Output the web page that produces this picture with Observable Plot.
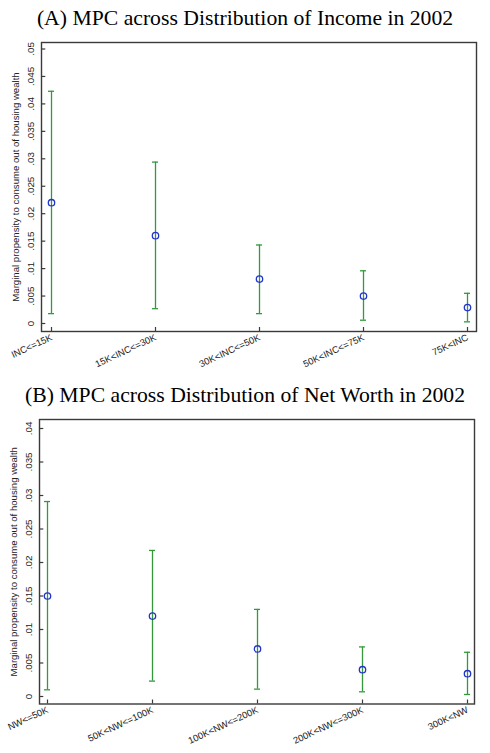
<!DOCTYPE html>
<html><head><meta charset="utf-8">
<script src="https://cdn.jsdelivr.net/npm/d3@7"></script>
<script src="https://cdn.jsdelivr.net/npm/@observablehq/plot@0.6"></script>
<style>
body{margin:0;background:#fff;}
#wrap{position:relative;width:490px;height:753px;overflow:hidden;background:#fff;}
.title{position:absolute;left:0;width:490px;text-align:center;font-family:"Liberation Serif","Times New Roman",serif;font-size:21.7px;line-height:21.7px;color:#000;white-space:nowrap;}
.panel{position:absolute;left:0;}
</style></head><body>
<div id="wrap">
<div class="title" style="top:8px">(A) MPC across Distribution of Income in 2002</div>
<div class="panel" id="pa" style="top:36px"></div>
<div class="title" style="top:385px">(B) MPC across Distribution of Net Worth in 2002</div>
<div class="panel" id="pb" style="top:413px"></div>
</div>
<script>
// Panel A: income groups
const incomeCats = ["INC<=15K", "15K<INC<=30K", "30K<INC<=50K", "50K<INC<=75K", "75K<INC"];
const incomeMPC  = [0.0220, 0.0160, 0.0081, 0.0050, 0.0029];
const incomeLow  = [0.0018, 0.0027, 0.0018, 0.0006, 0.0003];
const incomeHigh = [0.0423, 0.0294, 0.0143, 0.0096, 0.0055];
const incomeYTicks  = [0, 0.005, 0.01, 0.015, 0.02, 0.025, 0.03, 0.035, 0.04, 0.045, 0.05];
const incomeYLabels = ["0", ".005", ".01", ".015", ".02", ".025", ".03", ".035", ".04", ".045", ".05"];

// Panel B: net worth groups
const worthCats = ["NW<=50K", "50K<NW<=100K", "100K<NW<=200K", "200K<NW<=300K", "300K<NW"];
const worthMPC  = [0.0150, 0.0120, 0.0071, 0.0040, 0.0034];
const worthLow  = [0.0010, 0.0023, 0.0011, 0.0007, 0.0003];
const worthHigh = [0.0291, 0.0218, 0.0130, 0.0074, 0.0066];
const worthYTicks  = [0, 0.005, 0.01, 0.015, 0.02, 0.025, 0.03, 0.035, 0.04];
const worthYLabels = ["0", ".005", ".01", ".015", ".02", ".025", ".03", ".035", ".04"];

const yTitle = "Marginal propensity to consume out of housing wealth";

const GREEN = "#33993a";
const BLUE = "#2233cc";
const AXIS = "#3a3a3a";
const SANS = "'Liberation Sans', Arial, Helvetica, sans-serif";

function panel({cats, mpc, lo, hi, yTicks, yLabels, yDomain, ml, mr, mb, padding}) {
  const rows = cats.map((c, i) => ({cat: c, mpc: mpc[i], lo: lo[i], hi: hi[i]}));
  const W = 490, H = 340, mt = 6;
  const fw = W - ml - mr, fh = H - mt - mb;
  const tickLab = yTicks.map((v, i) => ({v, s: yLabels[i]}));
  return Plot.plot({
    width: W, height: H,
    marginLeft: ml, marginRight: mr, marginTop: mt, marginBottom: mb,
    style: {background: "#fff", overflow: "visible", fontFamily: SANS},
    x: {type: "point", domain: cats, padding, axis: null},
    y: {domain: yDomain, axis: null},
    marks: [
      Plot.ruleX(rows, {x: "cat", y1: "lo", y2: "hi", stroke: GREEN, strokeWidth: 1.3}),
      Plot.ruleY(rows, {x1: "cat", x2: "cat", y: "hi", insetLeft: -3, insetRight: -3, stroke: GREEN, strokeWidth: 1.3}),
      Plot.ruleY(rows, {x1: "cat", x2: "cat", y: "lo", insetLeft: -3, insetRight: -3, stroke: GREEN, strokeWidth: 1.3}),
      Plot.dot(rows, {x: "cat", y: "mpc", r: 3.2, stroke: BLUE, fill: "none", strokeWidth: 1.3}),
      Plot.tickY(yTicks, {y: d => d, insetRight: fw - 4.3, stroke: AXIS, strokeWidth: 1.2}),
      Plot.tickX(cats, {x: d => d, insetTop: fh - 4, stroke: AXIS, strokeWidth: 1.2}),
      Plot.frame({stroke: AXIS, strokeWidth: 1.4}),
      Plot.text(tickLab, {y: "v", text: "s", frameAnchor: "left", dx: -7.4, rotate: -90,
        textAnchor: "middle", lineAnchor: "bottom", fontSize: 9.9, fill: "#222"}),
      Plot.text([yTitle], {text: d => d, frameAnchor: "left", dx: -22.7, rotate: -90,
        textAnchor: "middle", lineAnchor: "bottom", fontSize: 9.6, fill: "#222"}),
      Plot.text(cats, {x: d => d, text: d => d, frameAnchor: "bottom", rotate: -25,
        textAnchor: "end", lineAnchor: "top", dx: -1.5, dy: 2, fontSize: 9.4, fill: "#222"})
    ]
  });
}

document.getElementById("pa").appendChild(panel({
  cats: incomeCats, mpc: incomeMPC, lo: incomeLow, hi: incomeHigh,
  yTicks: incomeYTicks, yLabels: incomeYLabels,
  yDomain: [-0.001457, 0.051184], ml: 41, mr: 14, mb: 45, padding: 0.08
}));
document.getElementById("pb").appendChild(panel({
  cats: worthCats, mpc: worthMPC, lo: worthLow, hi: worthHigh,
  yTicks: worthYTicks, yLabels: worthYLabels,
  yDomain: [-0.001119, 0.041343], ml: 39, mr: 16, mb: 49.5, padding: 0.07
}));
</script>
</body></html>
